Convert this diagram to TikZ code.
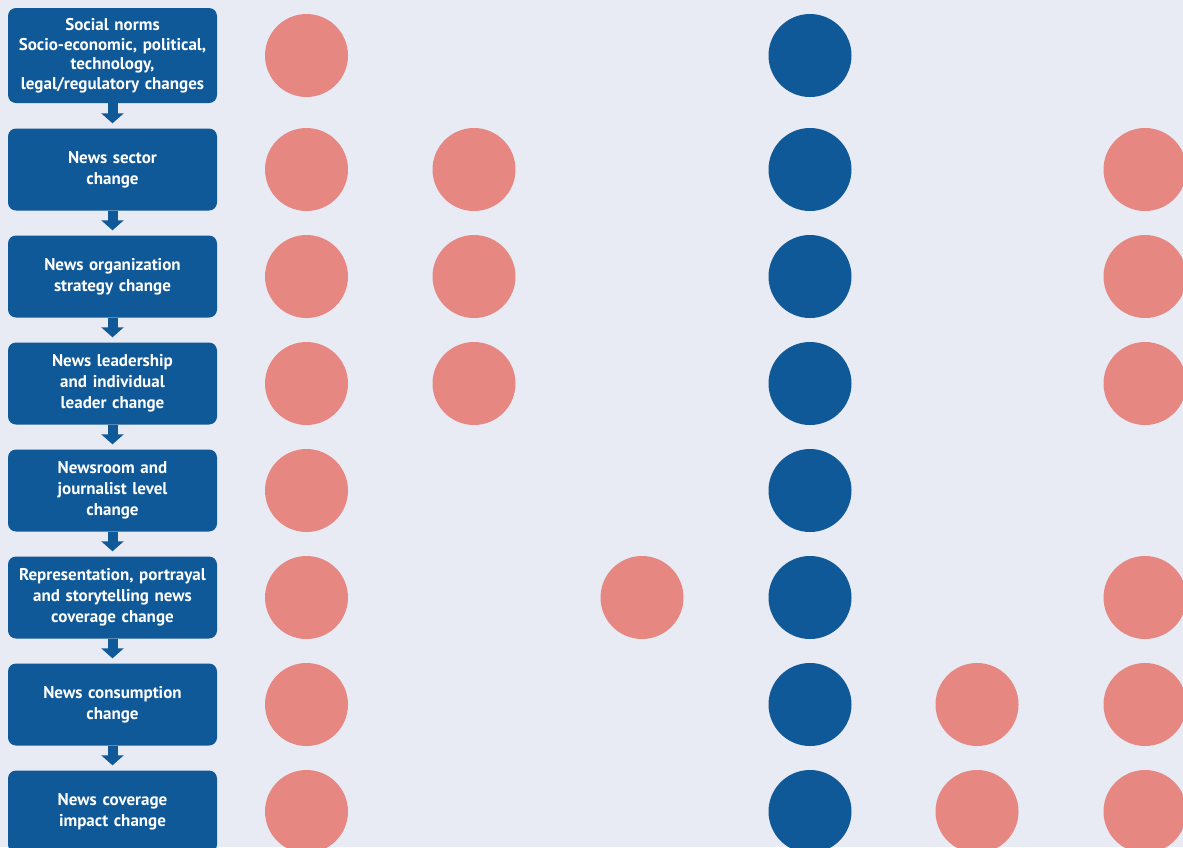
\documentclass[tikz,border=0pt]{standalone}
\usepackage{fontspec}
\setmainfont{PT Sans}
\usetikzlibrary{arrows.meta}
\definecolor{bg}{RGB}{232,234,244}
\definecolor{nblue}{RGB}{16,89,153}
\definecolor{npink}{RGB}{230,135,130}
\begin{document}
\begin{tikzpicture}[x=1pt,y=-1pt,
  stage/.style={fill=nblue, rounded corners=8pt, minimum width=209pt, minimum height=82pt,
    text=white, font=\fontsize{17}{21}\selectfont\bfseries, align=center,
    inner sep=0pt, text width=205pt},
  flow/.style={draw=nblue, line width=10pt, line cap=butt,
    -{Triangle[width=22pt,length=10pt]}, shorten >=5pt},
  dot/.style={circle, minimum size=83pt, inner sep=0pt},
  pinkdot/.style={dot, fill=npink},
  bluedot/.style={dot, fill=nblue}]
\useasboundingbox (0,0) rectangle (1183,847);
\fill[bg] (0,0) rectangle (1183,847);
\begin{scope}
\clip (0,0) rectangle (1183,847);
% stages
\node[stage, minimum height=95pt, font=\fontsize{17}{19.5}\selectfont\bfseries] (s1) at (112.5,55.5) {Social norms\\Socio-economic, political,\\technology,\\legal/regulatory changes};
\node[stage] (s2) at (112.5,169.5) {News sector\\change};
\node[stage] (s3) at (112.5,276.5) {News organization\\strategy change};
\node[stage] (s4) at (112.5,383.5) {News leadership\\and individual\\leader change};
\node[stage] (s5) at (112.5,490.5) {Newsroom and\\journalist level\\change};
\node[stage] (s6) at (112.5,597.5) {Representation, portrayal\\and storytelling news\\coverage change};
\node[stage] (s7) at (112.5,704.5) {News consumption\\change};
\node[stage] (s8) at (112.5,811.5) {News coverage\\impact change};
\foreach \a/\b in {s1/s2,s2/s3,s3/s4,s4/s5,s5/s6,s6/s7,s7/s8}
  \draw[flow] (\a.south) -- (\b.north);
% dots: row y values
\foreach \r/\y in {1/55.5,2/169.5,3/276.5,4/383.5,5/490.5,6/597.5,7/704.5,8/811.5}{
  \node[pinkdot] (c\r a) at (306.5,\y) {};
  \node[bluedot] (c\r d) at (810,\y) {};
}
\foreach \r/\y in {2/169.5,3/276.5,4/383.5}
  \node[pinkdot] (c\r b) at (474,\y) {};
\node[pinkdot] (c6c) at (642,597.5) {};
\foreach \r/\y in {7/704.5,8/811.5}
  \node[pinkdot] (c\r e) at (977,\y) {};
\foreach \r/\y in {2/169.5,3/276.5,4/383.5,6/597.5,7/704.5,8/811.5}
  \node[pinkdot] (c\r f) at (1145,\y) {};
\end{scope}
\end{tikzpicture}
\end{document}
